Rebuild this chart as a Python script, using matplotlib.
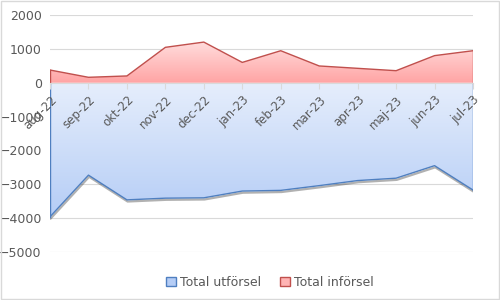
import numpy as np
import matplotlib
matplotlib.use('Agg')
import matplotlib.pyplot as plt
from matplotlib.colors import LinearSegmentedColormap
from matplotlib.patches import Rectangle
import matplotlib.patheffects as pe

months = ['aug-22', 'sep-22', 'okt-22', 'nov-22', 'dec-22', 'jan-23',
          'feb-23', 'mar-23', 'apr-23', 'maj-23', 'jun-23', 'jul-23']
utforsel = [-3960, -2730, -3460, -3410, -3400, -3200,
            -3180, -3040, -2890, -2820, -2450, -3170]
inforsel = [375, 160, 200, 1045, 1200, 600,
            945, 495, 425, 355, 800, 945]

grey = '#595959'
plt.rcParams['font.family'] = 'DejaVu Sans'

fig = plt.figure(figsize=(5, 3), dpi=100)
ax = fig.add_axes([0.1, 0.16, 0.846, 0.79])
x = np.arange(len(months))

ax.set_xlim(0, len(months) - 1)
ax.set_ylim(-5000, 2000)
yticks = np.arange(-5000, 2001, 1000)
ax.set_yticks(yticks)
for yv in yticks:
    ax.axhline(yv, color='#d9d9d9', linewidth=0.8, zorder=0.5)


def gradient_fill(xv, yv, c_far, c_near, line_color, shadow=False):
    poly = ax.fill_between(xv, yv, 0, color='none', linewidth=0)
    cmap = LinearSegmentedColormap.from_list('g', [c_near, c_far])
    lo = min(0, min(yv))
    hi = max(0, max(yv))
    grad = np.linspace(0, 1, 256).reshape(-1, 1)
    if hi > 0:
        grad = grad[::-1]
    im = ax.imshow(grad, cmap=cmap, aspect='auto',
                   extent=[xv[0], xv[-1], lo, hi], origin='upper', zorder=2)
    im.set_clip_path(poly.get_paths()[0], transform=ax.transData)
    effects = []
    if shadow:
        effects = [pe.SimpleLineShadow(offset=(0.5, -1.2), shadow_color='#222222',
                                       alpha=0.35, linewidth=1.6),
                   pe.Normal()]
    ax.plot(xv, yv, color=line_color, linewidth=1.0, zorder=3, path_effects=effects)
    ax.plot([xv[0], xv[0]], [0, yv[0]], color=line_color, linewidth=1.0, zorder=3)
    ax.plot([xv[-1], xv[-1]], [0, yv[-1]], color=line_color, linewidth=1.0, zorder=3)


gradient_fill(x, np.array(utforsel), '#b5cdf6', '#e6eefc', '#4f7fc0', shadow=True)
gradient_fill(x, np.array(inforsel), '#ffdcdc', '#ffa4a4', '#c0504d')

for s in ['top', 'right', 'left']:
    ax.spines[s].set_visible(False)
ax.spines['bottom'].set_position(('data', 0))
ax.spines['bottom'].set_color('#d9d9d9')
ax.spines['bottom'].set_zorder(4)

ax.set_xticks(x)
ax.set_xticklabels(months, rotation=45, ha='right', rotation_mode='anchor')
ax.tick_params(axis='x', colors='#d9d9d9', labelcolor=grey, labelsize=8.5,
               length=4, direction='out')
ax.tick_params(axis='y', length=0, labelcolor=grey, labelsize=9, pad=6)
ax.xaxis.set_zorder(5)
ax.yaxis.set_zorder(5)

handles = [Rectangle((0, 0), 1, 1, facecolor='#b5cdf6', edgecolor='#4f7fc0'),
           Rectangle((0, 0), 1, 1, facecolor='#ffb4b4', edgecolor='#c0504d')]
leg = fig.legend(handles, ['Total utförsel', 'Total införsel'], loc='lower center',
                 bbox_to_anchor=(0.54, 0.0), ncol=2, frameon=False, fontsize=9,
                 handlelength=0.8, handleheight=0.8, handletextpad=0.3,
                 columnspacing=1.5)
for t in leg.get_texts():
    t.set_color(grey)

fig.patches.append(Rectangle((0.002, 0.003), 0.996, 0.994, transform=fig.transFigure,
                             fill=False, edgecolor='#d9d9d9', linewidth=1))

plt.savefig('out.png', dpi=100)
